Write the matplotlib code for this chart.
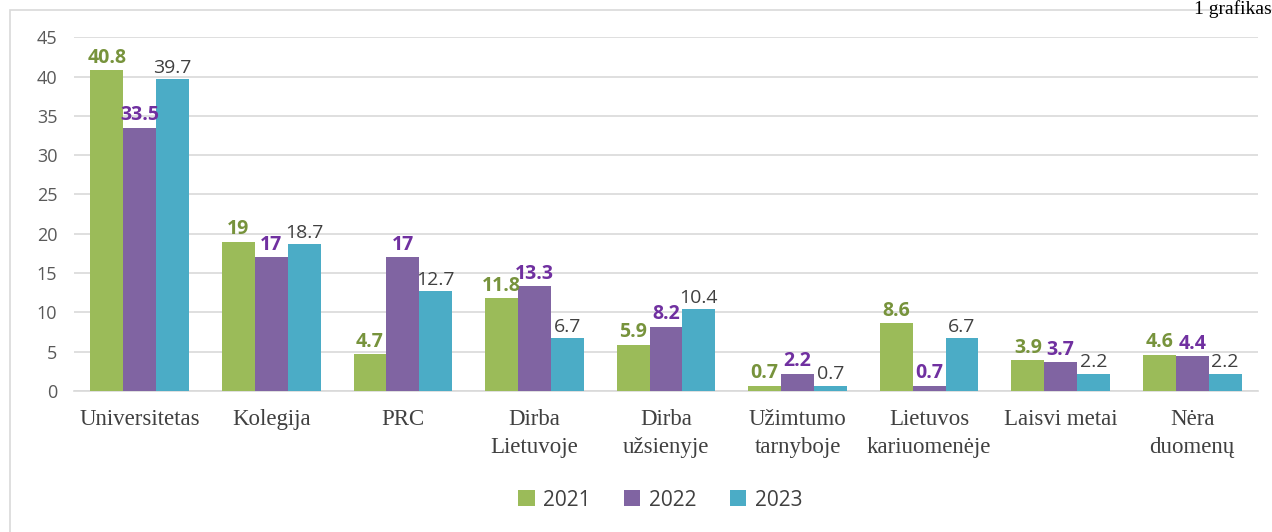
import matplotlib
matplotlib.use('Agg')
import numpy as np
import matplotlib.pyplot as plt
from matplotlib.patches import Rectangle

categories = ["Universitetas", "Kolegija", "PRC", "Dirba\nLietuvoje", "Dirba\nužsienyje",
              "Užimtumo\ntarnyboje", "Lietuvos\nkariuomenėje", "Laisvi metai", "Nėra\nduomenų"]
years = ["2021", "2022", "2023"]
v2021 = [40.8, 19, 4.7, 11.8, 5.9, 0.7, 8.6, 3.9, 4.6]
v2022 = [33.5, 17, 17, 13.3, 8.2, 2.2, 0.7, 3.7, 4.4]
v2023 = [39.7, 18.7, 12.7, 6.7, 10.4, 0.7, 6.7, 2.2, 2.2]

bar_colors = ["#9BBB59", "#8064A2", "#4BACC6"]
label_colors = ["#77933C", "#7030A0", "#404040"]
label_weights = ["bold", "bold", "normal"]

fig = plt.figure(figsize=(12.72, 5.32), dpi=100)
ax = fig.add_axes([0.0582, 0.265, 0.9308, 0.665])

# outer chart frame
fig.patches.append(Rectangle((10 / 1272, -0.1), 1.2, 1.1 - 10 / 532, transform=fig.transFigure,
                             fill=False, edgecolor="#D9D9D9", linewidth=1.2))

x = np.arange(len(categories))
w = 0.25
for i, vals in enumerate([v2021, v2022, v2023]):
    pos = x + (i - 1) * w
    ax.bar(pos, vals, w, color=bar_colors[i], label=years[i], zorder=3)
    for p, v in zip(pos, vals):
        txt = ("%g" % v)
        ax.text(p, v + 0.3, txt, ha="center", va="bottom", fontsize=14,
                color=label_colors[i], fontweight=label_weights[i], family="Open Sans", zorder=4)

ax.set_xlim(-0.5, len(categories) - 0.5)
ax.set_ylim(0, 45)
ax.set_yticks(range(0, 46, 5))
ax.yaxis.grid(True, color="#D9D9D9", linewidth=1.2, zorder=0)
ax.set_axisbelow(True)
for s in ["top", "right", "left"]:
    ax.spines[s].set_visible(False)
ax.spines["bottom"].set_color("#D9D9D9")
ax.spines["bottom"].set_linewidth(1.2)
ax.tick_params(axis="both", length=0)
ax.tick_params(axis="y", labelsize=13, labelcolor="#595959", pad=12)
ax.set_xticks(x)
ax.set_xticklabels(categories, family="Liberation Serif", fontsize=16.5, color="#404040",
                   linespacing=1.45)
ax.tick_params(axis="x", pad=13)
for lab in ax.get_yticklabels():
    lab.set_family("Open Sans")

fig.legend(loc="center", bbox_to_anchor=(660 / 1272, 1 - 500 / 532), ncol=3, frameon=False,
           prop={"family": "Open Sans", "size": 15}, handlelength=0.8, handleheight=0.8,
           columnspacing=1.6, handletextpad=0.4, labelcolor="#404040")

fig.text(1.0, 1.0, "1 grafikas", family="Liberation Serif", fontsize=14,
         color="black", ha="right", va="top")

fig.savefig("out.png", dpi=100)
